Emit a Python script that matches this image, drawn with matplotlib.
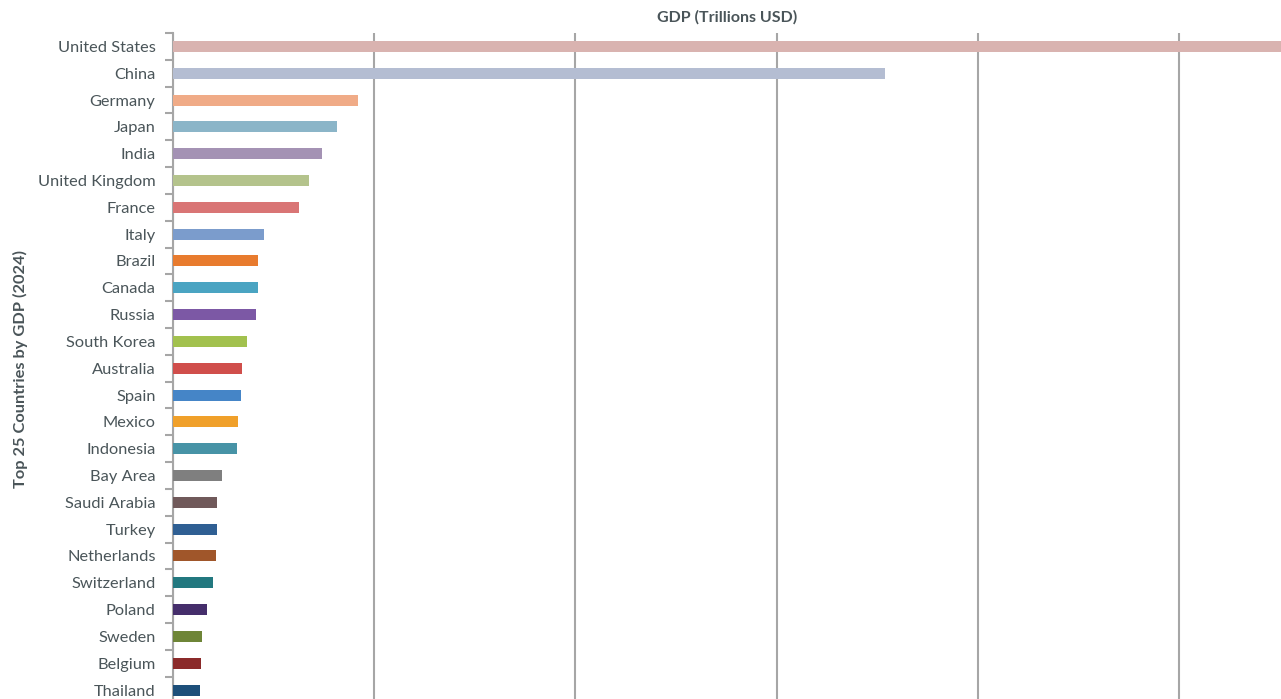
import numpy as np
import matplotlib.pyplot as plt
from matplotlib.ticker import MultipleLocator, FixedLocator, NullFormatter

countries = ['United States', 'China', 'Germany', 'Japan', 'India', 'United Kingdom',
             'France', 'Italy', 'Brazil', 'Canada', 'Russia', 'South Korea', 'Australia',
             'Spain', 'Mexico', 'Indonesia', 'Bay Area', 'Saudi Arabia', 'Turkey',
             'Netherlands', 'Switzerland', 'Poland', 'Sweden', 'Belgium', 'Thailand']
gdp = [29.2, 17.7, 4.6, 4.08, 3.71, 3.38, 3.13, 2.26, 2.11, 2.12, 2.07, 1.84, 1.72,
       1.69, 1.62, 1.59, 1.22, 1.09, 1.09, 1.07, 0.99, 0.85, 0.72, 0.70, 0.67]
colors = ['#d9b3b0', '#b4bdd2', '#f0ab87', '#8bb5c8', '#a492b4', '#b4c38c', '#d97575',
          '#7b9ccc', '#e87b2e', '#4aa4c2', '#7c58a5', '#a2c14e', '#d04e4b', '#4585c7',
          '#f0a02a', '#4793a6', '#7f7f7f', '#70595a', '#2f5f93', '#a0562a', '#22787f',
          '#452e6b', '#6e8537', '#8b2a2a', '#1d4f7a']

plt.rcParams['font.family'] = ['Lato', 'DejaVu Sans']
txt = '#4a5559'
grid = '#a6a6a6'

fig = plt.figure(figsize=(12.81, 6.99), dpi=100)
ax = fig.add_axes([0.135, -0.0064, 0.865, 0.9592])

y = np.arange(len(countries))
ax.barh(y, gdp, height=0.41, color=colors, zorder=3)
ax.set_ylim(len(countries) - 0.5, -0.5)
ax.set_xlim(0, 27.53)

ax.xaxis.set_major_locator(MultipleLocator(5))
ax.xaxis.set_major_formatter(NullFormatter())
ax.tick_params(axis='x', length=0)
ax.grid(axis='x', color=grid, linewidth=1.5, zorder=0)

ax.set_yticks(y)
ax.set_yticklabels(countries, fontsize=11.8, color=txt)
ax.tick_params(axis='y', which='major', length=0, pad=12.5)
ax.yaxis.set_minor_locator(FixedLocator(np.arange(-0.5, len(countries), 1)))
ax.tick_params(axis='y', which='minor', length=6, width=1.5, color=grid)

fig.text(727 / 1281, 1 - 17 / 699, 'GDP (Trillions USD)', fontsize=11.5, fontweight='bold',
         color=txt, ha='center', va='center')
fig.text(20 / 1281, 1 - 369 / 699, 'Top 25 Countries by GDP (2024)', fontsize=11.8,
         fontweight='bold', color=txt, ha='center', va='center', rotation=90)

for s in ['top', 'right', 'bottom']:
    ax.spines[s].set_visible(False)
ax.spines['left'].set_color(grid)
ax.spines['left'].set_linewidth(1.5)

fig.savefig('out.png', dpi=100)
